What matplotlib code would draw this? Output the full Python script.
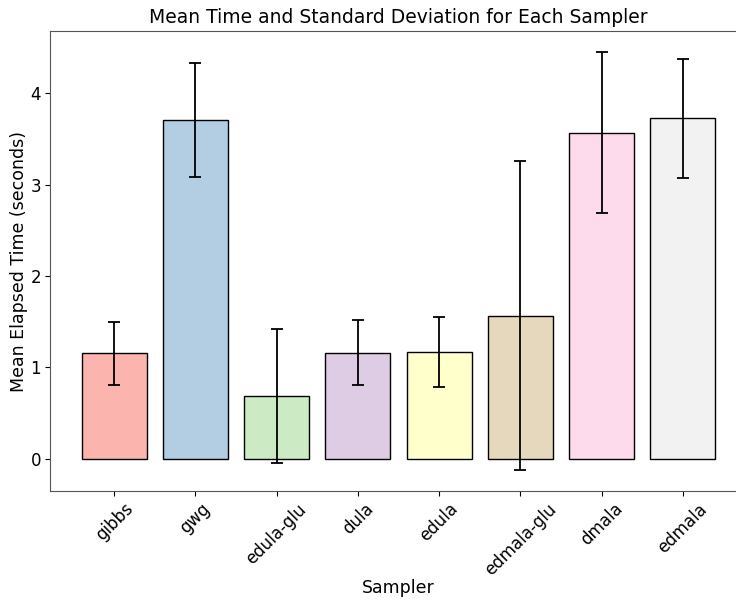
import matplotlib
matplotlib.use("Agg")
import matplotlib.pyplot as plt

samplers = ["gibbs", "gwg", "edula-glu", "dula", "edula", "edmala-glu", "dmala", "edmala"]
mean_times = [1.156, 3.713, 0.687, 1.162, 1.165, 1.565, 3.572, 3.728]
std_times = [0.345, 0.625, 0.735, 0.360, 0.385, 1.690, 0.883, 0.650]
colors = ["#fbb4ae", "#b3cde3", "#ccebc5", "#decbe4", "#ffffcc", "#e5d8bd", "#fddaec", "#f2f2f2"]

fig = plt.figure(figsize=(7.36, 5.99), dpi=100)
W, H = 736, 599
left, right, top, bottom = 50, 747, 31, 491
ax = fig.add_axes([left / W, 1 - bottom / H, (right - left) / W, (bottom - top) / H])

ax.bar(samplers, mean_times, yerr=std_times, color=colors, edgecolor="black",
       linewidth=1.0, capsize=4, error_kw=dict(elinewidth=1.3, capthick=1.3, ecolor="black"))
ax.set_title("Mean Time and Standard Deviation for Each Sampler", fontsize=13.5)
ax.set_xlabel("Sampler", fontsize=12.5, labelpad=0.5)
ax.set_ylabel("Mean Elapsed Time (seconds)", fontsize=12.5, labelpad=1.5)
ax.tick_params(axis="both", labelsize=12, pad=3)
plt.setp(ax.get_xticklabels(), rotation=45)
for s in ax.spines.values():
    s.set_color("#555555")

fig.savefig("out.png", dpi=100)
